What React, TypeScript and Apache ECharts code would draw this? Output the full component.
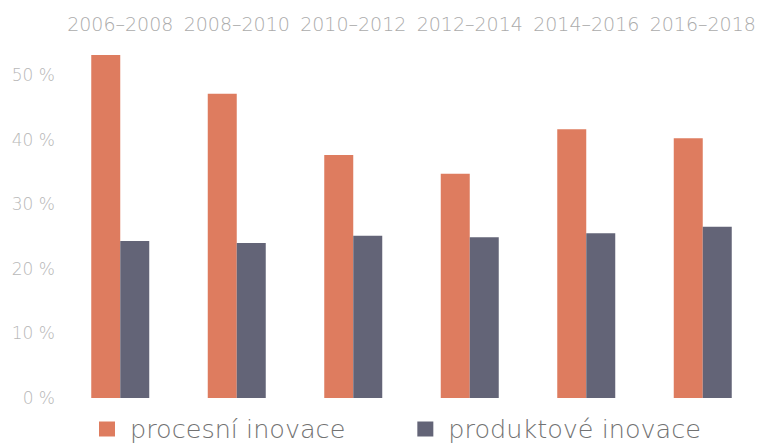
import React, { useEffect, useRef } from "react";
import * as echarts from "echarts";

const categories = ["2006–2008", "2008–2010", "2010–2012", "2012–2014", "2014–2016", "2016–2018"];
const processValues = [53.1, 47.1, 37.6, 34.7, 41.6, 40.2];
const productValues = [24.3, 24.0, 25.1, 24.9, 25.5, 26.5];
const seriesNames = ["procesní inovace", "produktové inovace"];

export default function App() {
  const ref = useRef<HTMLDivElement>(null);
  useEffect(() => {
    if (!ref.current) return;
    const chart = echarts.init(ref.current, undefined, { renderer: "svg" });
    chart.setOption({
      animation: false,
      backgroundColor: "#ffffff",
      grid: { left: 62, width: 704.4, top: 42.7, bottom: 47 },
      legend: {
        left: 94,
        top: 411,
        itemWidth: 16,
        itemHeight: 15,
        itemGap: 72,
        icon: "rect",
        textStyle: {
          fontFamily: "DejaVu Sans",
          fontWeight: 200,
          fontSize: 25.5,
          lineHeight: 26,
          color: "#727272",
          padding: [0, 0, 0, 10],
        },
        data: seriesNames,
      },
      xAxis: {
        type: "category",
        position: "top",
        data: categories,
        axisLine: { show: false },
        axisTick: { show: false },
        axisLabel: {
          interval: 0,
          fontFamily: "DejaVu Sans",
          fontWeight: 200,
          fontSize: 19,
          color: "#ababab",
          margin: 9,
        },
      },
      yAxis: {
        type: "value",
        min: 0,
        max: 55,
        interval: 10,
        splitLine: { show: false },
        axisLine: { show: false },
        axisTick: { show: false },
        axisLabel: {
          showMaxLabel: false,
          formatter: "{value} %",
          fontFamily: "DejaVu Sans",
          fontWeight: 200,
          fontSize: 17,
          color: "#b8b8b8",
          margin: 7,
        },
      },
      series: [
        {
          name: seriesNames[0],
          type: "bar",
          data: processValues,
          barWidth: 29,
          barGap: "0%",
          itemStyle: { color: "#de7c5f" },
        },
        {
          name: seriesNames[1],
          type: "bar",
          data: productValues,
          barWidth: 29,
          barGap: "0%",
          itemStyle: { color: "#636477" },
        },
      ],
    });
    return () => chart.dispose();
  }, []);
  return <div ref={ref} style={{ width: 761, height: 445, position: "absolute", left: 0, top: 0 }} />;
}
